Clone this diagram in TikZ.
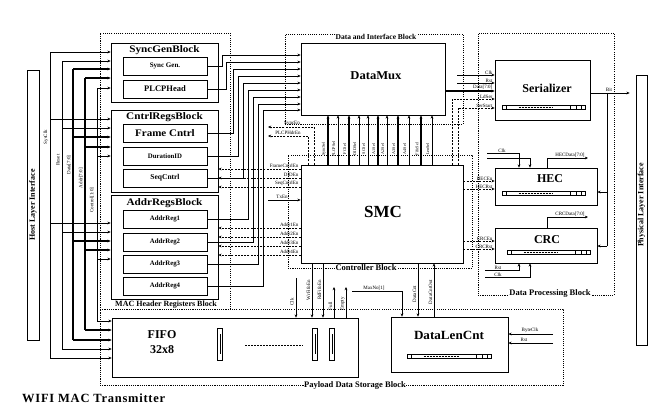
\documentclass[tikz,border=0pt]{standalone}
\usepackage{fontspec}
\setmainfont{Liberation Serif}
\usetikzlibrary{arrows.meta}
\newcommand\regstrip[3]{%
  \draw[line width=0.4pt] (#1,#3-2) rectangle (#2,#3+2);
  \draw[line width=0.4pt] (#1+4,#3-2) -- (#1+4,#3+2);
  \draw[line width=0.7pt, dash pattern=on 2pt off 1pt] ({#1+0.2*(#2-#1)},#3) -- ({#1+0.62*(#2-#1)},#3);
  \draw[line width=0.4pt] (#2-4,#3-2) -- (#2-4,#3+2) (#2-9,#3-2) -- (#2-9,#3+2) (#2-15,#3-2) -- (#2-15,#3+2);
}
\begin{document}
\begin{tikzpicture}[x=1pt,y=-1pt,
  box/.style={draw, line width=0.7pt, inner sep=0pt, fill=white},
  dblk/.style={draw, line width=1pt, dash pattern=on 1.1pt off 1.1pt},
  ttl/.style={font=\bfseries\fontsize{#1}{#1}\selectfont, inner sep=0.5pt},
  sig/.style={font=\fontsize{5}{5.5}\selectfont, inner sep=0.4pt},
  sigs/.style={font=\fontsize{4.2}{4.5}\selectfont, inner sep=0.2pt},
  arr/.style={-{Stealth[length=3.2pt,width=2.8pt]}},
  wire/.style={line width=0.6pt},
  bus/.style={line width=1.3pt},
  en/.style={line width=0.6pt, dash pattern=on 2pt off 1.2pt}]
\useasboundingbox (0,0) rectangle (654,405);

% ---------- dotted grouping blocks
\node[dblk, minimum width=130pt, minimum height=276pt] (macblk) at (165,171) {};
\node[dblk, minimum width=178pt, minimum height=90pt] (difblk) at (374,79) {};
\node[dblk, minimum width=184pt, minimum height=113pt] (ctlblk) at (380,211.5) {};
\node[dblk, minimum width=136pt, minimum height=262pt] (dpblk) at (546,164) {};
\node[dblk, minimum width=463pt, minimum height=76pt] (pdblk) at (331.5,347) {};

% ---------- interfaces
\node[box, minimum width=12pt, minimum height=270pt] (host) at (33,205) {};
\node[ttl=8, rotate=90] (hostt) at (33,205) {Host Layer Interface};
\node[box, minimum width=11pt, minimum height=270pt] (phy) at (641.5,210) {};
\node[ttl=8, rotate=90] (phyt) at (641.5,205) {Physical Layer Interface};

% ---------- MAC header registers
\node[box, minimum width=107pt, minimum height=59pt] (syncblk) at (164.5,72.5) {};
\node[ttl=10, xscale=1.12] (syncblkt) at (164.5,50) {SyncGenBlock};
\node[box, minimum width=84pt, minimum height=18pt] (syncgen) at (165,66) {};
\node[ttl=7] (syncgent) at (165,66) {Sync Gen.};
\node[box, minimum width=84pt, minimum height=18pt] (plcp) at (165,89) {};
\node[ttl=8.5] (plcpt) at (165,89) {PLCPHead};

\node[box, minimum width=107pt, minimum height=82pt] (ctrlblk) at (164.5,151) {};
\node[ttl=10, xscale=1.12] (ctrlblkt) at (164.5,117.5) {CntrlRegsBlock};
\node[box, minimum width=84pt, minimum height=18pt] (frame) at (165,133) {};
\node[ttl=10, xscale=1.1] (framet) at (165,133) {Frame Cntrl};
\node[box, minimum width=84pt, minimum height=18pt, ttl=6.8] (durid) at (165,156) {DurationID};
\node[box, minimum width=84pt, minimum height=18pt, ttl=7.5] (seqc) at (165,178) {SeqCntrl};

\node[box, minimum width=107pt, minimum height=104pt] (addrblk) at (164.5,247) {};
\node[ttl=10, xscale=1.12] (addrblkt) at (164.5,203) {AddrRegsBlock};
\node[box, minimum width=84pt, minimum height=18pt, ttl=6.8] (ar1) at (165,219) {AddrReg1};
\node[box, minimum width=84pt, minimum height=18pt, ttl=6.8] (ar2) at (165,242) {AddrReg2};
\node[box, minimum width=84pt, minimum height=18pt, ttl=6.8] (ar3) at (165,264) {AddrReg3};
\node[box, minimum width=84pt, minimum height=18pt, ttl=6.8] (ar4) at (165,286) {AddrReg4};
\node[ttl=8] (macl) at (166,304.5) {MAC Header Registers Block};

% ---------- data interface / controller
\node[ttl=7.5, fill=white] (difl) at (376,37) {Data and Interface Block};
\node[box, minimum width=144pt, minimum height=72pt] (datamux) at (373,79) {};
\node[ttl=12, xscale=1.05] (datamuxt) at (376,76) {DataMux};
\node[box, minimum width=162pt, minimum height=98pt] (smc) at (382,214) {};
\node[ttl=17] (smct) at (383,212) {SMC};
\node[ttl=8.5, fill=white] (ctll) at (366,268) {Controller Block};

% ---------- data processing
\node[box, minimum width=95pt, minimum height=60pt] (ser) at (542.5,90) {};
\node[ttl=12] (sert) at (547,88) {Serializer};
\node[box, minimum width=102pt, minimum height=37pt] (hec) at (546,186.5) {};
\node[ttl=12] (hect) at (550,179) {HEC};
\node[box, minimum width=102pt, minimum height=35pt] (crc) at (546,245.5) {};
\node[ttl=12] (crct) at (547,240) {CRC};
\node[ttl=8.5, fill=white] (dpl) at (550,293) {Data Processing Block};

% ---------- payload storage
\node[box, minimum width=246pt, minimum height=59pt] (fifo) at (235,347.5) {};
\node[font=\bfseries\fontsize{12}{15}\selectfont, align=center, inner sep=0pt] (fifot) at (162,342) {FIFO\\32x8};
\node[box, minimum width=117pt, minimum height=55pt] (dlc) at (449.5,344.5) {};
\node[ttl=12.5, xscale=1.05] (dlct) at (449,335) {DataLenCnt};
\node[ttl=8.5, fill=white] (pdl) at (355,385) {Payload Data Storage Block};

% register strips
\regstrip{502}{585}{107.5}
\regstrip{502}{585}{193.5}
\regstrip{507}{590}{252.5}
\regstrip{407}{491}{356}

% FIFO slots
\foreach \sx in {220,315,332}{
  \draw[line width=0.5pt] (\sx-2.5,328) rectangle (\sx+2.5,360);
  \draw[line width=0.4pt] (\sx,334) -- (\sx,354);
}
\draw[line width=0.8pt, dash pattern=on 2pt off 1pt] (245,345) -- (303,345);

% ---------- host-side bus
\foreach \x/\ya/\yb/\yc/\yd/\lw in {50/52/119/223/358/0.6pt, 62/61/128/232/349/0.6pt, 73/69/137/241/340/1.3pt, 85/78/147/250/330/1.3pt, 97/88/156/259/321/0.6pt}{
  \draw[line width=\lw] (\x,\ya) -- (\x,\yd);
  \draw[arr, line width=\lw] (\x,\ya) -- (syncblk.west |- 0,\ya);
  \draw[arr, line width=\lw] (\x,\yb) -- (ctrlblk.west |- 0,\yb);
  \draw[arr, line width=\lw] (\x,\yc) -- (addrblk.west |- 0,\yc);
  \draw[arr, line width=\lw] (\x,\yd) -- (fifo.west |- 0,\yd);
}
\node[sig, rotate=90] (lsys) at (46,137) {SysClk};
\node[sig, rotate=90] (lrst) at (58,160) {Reset};
\node[sig, rotate=90] (ldat) at (69,165) {Data[7:0]};
\node[sig, rotate=90] (ladr) at (81,178) {Addr[7:0]};
\node[sig, rotate=90] (lctl) at (92,200) {Control[1:0]};

% ---------- registers to DataMux
\foreach \n/\cx/\yy in {syncgen/222/55, plcp/226/62, frame/233/69, durid/238/76, seqc/243/83, ar1/248/90, ar2/253/97, ar3/258/104, ar4/263/110}{
  \draw[wire, arr] (\n.east) -| (\cx,\yy) -- (datamux.west |- 0,\yy);
}

% ---------- SMC to DataMux selects
\foreach \x/\lw/\t in {328/1.3pt/SyncSel, 338/0.6pt/PLCPSel, 349/1.3pt/FCSel, 359/0.6pt/DIDSel, 368/0.6pt/SCSel, 378/1.3pt/A1Sel, 387/0.6pt/A2Sel, 398/1.3pt/A3Sel, 409/0.6pt/A4Sel, 421/1.3pt/FifoSel, 432/0.6pt/LenSel}{
  \draw[arr, line width=\lw] (smc.north -| \x,0) -- (datamux.south -| \x,0);
  \node[sigs, rotate=90] (s\x) at (\x-4.2,149) {\t};
}

% ---------- SMC enables to register blocks
\draw[en, arr] (smc.west |- 0,169) -- (ctrlblk.east |- 0,169);
\draw[en, arr] (smc.west |- 0,178) -- (ctrlblk.east |- 0,178);
\draw[en, arr] (smc.west |- 0,187) -- (ctrlblk.east |- 0,187);
\node[sig, anchor=south east] (lfce) at (299,168.5) {FrameCntrlEn};
\node[sig, anchor=south east] (ldid) at (299,177.5) {DIDEn};
\node[sig, anchor=south east] (lsce) at (299,186.5) {SeqCntrlEn};
\coordinate (txin) at (268,200);
\draw[wire, arr] (txin) -- (smc.west |- txin);
\node[sig, anchor=south] (ltx) at (282,199) {TxEn};
\foreach \yy/\k in {228/1, 237/2, 246/3, 255/4}{
  \draw[en, arr] (smc.west |- 0,\yy) -- (addrblk.east |- 0,\yy);
  \node[sig, anchor=south east] (la\k) at (299,\yy-0.5) {Addr\k En};
}
\coordinate (synct) at (268,127);
\coordinate (plcpt) at (268,136);
\draw[en, arr] (smc.north -| 314,0) |- (synct);
\draw[en, arr] (smc.north -| 308,0) |- (plcpt);
\node[sig, anchor=south] (lse) at (292,126.5) {SyncEn};
\node[sig, anchor=south] (lpe) at (288,135.5) {PLCPHdrEn};

% ---------- serializer inputs
\coordinate (sclk) at (457,75);
\coordinate (srst) at (457,83);
\draw[wire, arr] (sclk) -- (ser.west |- sclk);
\draw[wire, arr] (srst) -- (ser.west |- srst);
\draw[bus, arr] (datamux.east |- 0,91) -- (ser.west |- 0,91);
\draw[en, arr] (smc.north -| 452,0) |- (ser.west |- 0,99);
\draw[en, arr] (smc.north -| 458,0) |- (ser.west |- 0,108);
\node[sig, anchor=south east] (lsc) at (493,74.7) {Clk};
\node[sig, anchor=south east] (lsr) at (493,82.7) {Rst};
\node[sig, anchor=south east] (lsd) at (493,90.2) {Data[7:0]};
\node[sig, anchor=south east] (lsl) at (493,98.7) {LdSer};
\node[sig, anchor=south east] (lss) at (493,107.7) {SerStart};

% serializer output
\coordinate (fb) at (607,93);
\draw[wire, arr, shorten >=6pt] (ser.east |- 0,93) -- (phy.west |- 0,93);
\node[sig, anchor=south] (lbit) at (609,92.5) {Bit};
\draw[wire] (fb) -- (607,246);
\draw[wire, arr] (607,192) -- (hec.east |- 0,192);
\draw[wire, arr] (607,246) -- (crc.east |- 0,246);

% ---------- HEC / CRC controls
\draw[en, arr] (smc.east |- 0,181) -- (hec.west |- 0,181);
\draw[en, arr] (smc.east |- 0,189) -- (hec.west |- 0,189);
\draw[en, arr] (smc.east |- 0,241) -- (crc.west |- 0,241);
\draw[en, arr] (smc.east |- 0,249) -- (crc.west |- 0,249);
\node[sig, anchor=south east] (lhe) at (493,180.7) {HECEn};
\node[sig, anchor=south east] (lhr) at (493,188.7) {HECRst};
\node[sig, anchor=south east] (lce) at (493,240.7) {CRCEn};
\node[sig, anchor=south east] (lcr) at (493,248.7) {CRCRst};

\coordinate (hclk1) at (487,153);
\coordinate (hclk2) at (487,158);
\draw[wire, arr] (hclk1) -| (hec.north -| 519,0);
\draw[wire, arr] (hclk2) -| (hec.north -| 530,0);
\node[sig, anchor=south] (lhc) at (502,152.7) {Clk};
\coordinate (hd) at (588,158);
\draw[wire, arr] (hec.north -| 547,0) |- (hd);
\node[sig, anchor=south] (lhd) at (570,157.5) {HECData[7:0]};
\coordinate (cd) at (588,217);
\draw[wire, arr] (crc.north -| 547,0) |- (cd);
\node[sig, anchor=south] (lcd) at (570,216.5) {CRCData[7:0]};

\coordinate (crst) at (485,270);
\coordinate (cclk) at (485,277);
\draw[wire, arr] (crst) -| (crc.south -| 519,0);
\draw[wire, arr] (cclk) -| (crc.south -| 530,0);
\node[sig, anchor=south] (lcrs) at (498,269.7) {Rst};
\node[sig, anchor=south] (lccl) at (498,276.7) {Clk};

% ---------- FIFO controls
\coordinate (fclk) at (296,278);
\draw[wire, arr] (fclk) -- (fifo.north -| 296,0);
\node[sig, rotate=90] (lfc) at (292,302) {Clk};
\draw[wire, arr] (smc.south -| 312,0) -- (fifo.north -| 312,0);
\draw[wire, arr] (smc.south -| 323,0) -- (fifo.north -| 323,0);
\node[sig, rotate=90] (lwr) at (308.5,290) {WrFifoEn};
\node[sig, rotate=90] (lrd) at (319.5,290) {RdFifoEn};
\coordinate (ful) at (334,287);
\coordinate (emp) at (346,287);
\draw[wire, arr] (fifo.north -| 334,0) -- (ful);
\draw[wire, arr] (fifo.north -| 346,0) -- (emp);
\node[sig, rotate=90] (lfu) at (330.5,306) {Full};
\node[sig, rotate=90] (lem) at (342.5,304) {Empty};

% ---------- DataLenCnt controls
\coordinate (mx) at (352,291);
\draw[wire, arr] (mx) -| (dlc.north -| 402,0);
\node[sig, anchor=south] (lmx) at (374,290.5) {MaxNo[1]};
\draw[wire, arr] (smc.south -| 418,0) -- (dlc.north -| 418,0);
\draw[wire, arr] (dlc.north -| 434,0) -- (smc.south -| 434,0);
\node[sig, rotate=90] (ldc) at (414.5,294) {DataCnt};
\node[sig, rotate=90] (ldo) at (430.5,292) {DataCntOut};
\coordinate (bclk) at (553,334);
\coordinate (brst) at (553,343);
\draw[wire, arr] (bclk) -- (dlc.east |- bclk);
\draw[wire, arr] (brst) -- (dlc.east |- brst);
\node[sig, anchor=south] (lbc) at (530,333.5) {ByteClk};
\node[sig, anchor=south] (lbr) at (524,342.5) {Rst};

% ---------- title
\node[anchor=west, font=\bfseries\fontsize{12.5}{13}\selectfont\addfontfeature{LetterSpace=6}, inner sep=0pt] (title) at (22,398) {WIFI MAC Transmitter};
\end{tikzpicture}
\end{document}
